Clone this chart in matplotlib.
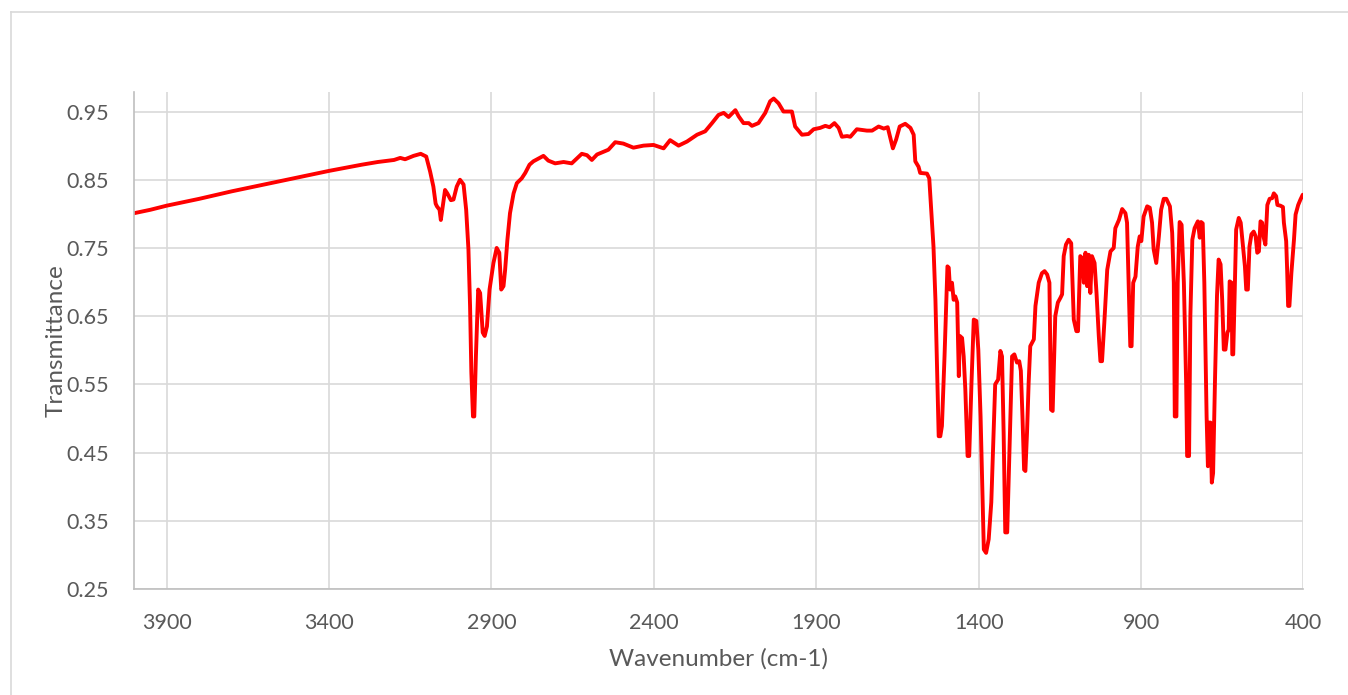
import matplotlib
matplotlib.use("Agg")
import matplotlib.pyplot as plt
from matplotlib.lines import Line2D

wavenumber = [
    4000, 3950, 3900, 3800, 3700, 3600, 3500, 3400, 3300, 3250, 3200, 3181, 3166, 3140, 3118, 3101,
    3089, 3079, 3072, 3068, 3060, 3056, 3050, 3043, 3036, 3025, 3017, 3007, 2997, 2986, 2978, 2971,
    2966, 2962, 2957, 2953, 2948, 2941, 2935, 2927, 2921, 2914, 2906, 2894, 2884, 2876, 2870, 2863,
    2858, 2851, 2843, 2832, 2822, 2807, 2796, 2783, 2771, 2740, 2725, 2704, 2678, 2653, 2622, 2606,
    2591, 2575, 2555, 2540, 2519, 2494, 2463, 2432, 2401, 2370, 2350, 2324, 2298, 2267, 2242, 2221,
    2201, 2185, 2170, 2149, 2139, 2124, 2108, 2098, 2078, 2057, 2042, 2031, 2016, 2001, 1975, 1965,
    1944, 1924, 1908, 1888, 1872, 1859, 1844, 1831, 1821, 1805, 1795, 1775, 1744, 1728, 1708, 1692,
    1680, 1664, 1654, 1643, 1626, 1610, 1600, 1595, 1585, 1580, 1559, 1552, 1546, 1539, 1533, 1528,
    1523, 1518, 1513, 1505, 1496, 1492, 1488, 1482, 1477, 1472, 1466, 1461, 1458, 1451, 1446, 1441,
    1434, 1429, 1422, 1415, 1407, 1401, 1394, 1389, 1384, 1377, 1369, 1361, 1354, 1349, 1340, 1333,
    1328, 1323, 1318, 1312, 1305, 1297, 1290, 1282, 1275, 1270, 1265, 1260, 1256, 1251, 1246, 1241,
    1230, 1225, 1215, 1205, 1197, 1189, 1182, 1177, 1172, 1164, 1156, 1148, 1143, 1138, 1131, 1123,
    1115, 1107, 1099, 1094, 1087, 1081, 1076, 1071, 1066, 1061, 1056, 1051, 1043, 1037, 1030, 1025,
    1020, 1013, 1004, 994, 984, 979, 968, 958, 948, 943, 938, 933, 929, 924, 917, 910,
    904, 899, 892, 881, 873, 866, 861, 853, 845, 838, 830, 822, 811, 804, 799, 796,
    791, 787, 781, 775, 768, 761, 758, 752, 748, 742, 735, 725, 719, 715, 710, 705,
    698, 694, 690, 686, 682, 678, 672, 666, 661, 655, 650, 645, 640, 634, 630, 627,
    621, 619, 616, 611, 607, 599, 593, 587, 580, 576, 571, 566, 560, 553, 547, 542,
    537, 532, 527, 522, 517, 511, 504, 496, 491, 484, 480, 471, 463, 460, 453, 450,
    447, 443, 437, 429, 424, 416, 409, 402, 400,
]

transmittance = [
    0.801, 0.806, 0.812, 0.822, 0.833, 0.843, 0.853, 0.863, 0.872, 0.876, 0.879, 0.882, 0.880, 0.885, 0.888, 0.884,
    0.862, 0.840, 0.815, 0.811, 0.806, 0.791, 0.811, 0.835, 0.830, 0.820, 0.821, 0.840, 0.850, 0.843, 0.806, 0.748,
    0.665, 0.567, 0.503, 0.503, 0.591, 0.689, 0.684, 0.626, 0.621, 0.635, 0.689, 0.728, 0.750, 0.743, 0.689, 0.694,
    0.718, 0.762, 0.801, 0.830, 0.845, 0.852, 0.860, 0.872, 0.877, 0.885, 0.878, 0.874, 0.876, 0.874, 0.888, 0.886,
    0.879, 0.887, 0.891, 0.894, 0.905, 0.903, 0.897, 0.900, 0.901, 0.896, 0.908, 0.900, 0.906, 0.916, 0.921, 0.933,
    0.945, 0.948, 0.942, 0.952, 0.943, 0.933, 0.933, 0.929, 0.933, 0.948, 0.965, 0.969, 0.962, 0.950, 0.950, 0.928,
    0.916, 0.917, 0.924, 0.926, 0.929, 0.927, 0.933, 0.926, 0.913, 0.914, 0.913, 0.924, 0.922, 0.922, 0.928, 0.925,
    0.927, 0.896, 0.909, 0.928, 0.932, 0.926, 0.916, 0.877, 0.869, 0.860, 0.859, 0.852, 0.806, 0.752, 0.674, 0.577,
    0.474, 0.474, 0.489, 0.591, 0.723, 0.721, 0.689, 0.699, 0.674, 0.679, 0.670, 0.562, 0.621, 0.618, 0.591, 0.543,
    0.445, 0.445, 0.552, 0.645, 0.643, 0.601, 0.503, 0.406, 0.308, 0.303, 0.323, 0.377, 0.479, 0.550, 0.557, 0.599,
    0.591, 0.479, 0.333, 0.333, 0.455, 0.591, 0.594, 0.582, 0.584, 0.570, 0.503, 0.425, 0.423, 0.479, 0.552, 0.606,
    0.616, 0.665, 0.699, 0.713, 0.716, 0.711, 0.699, 0.513, 0.511, 0.650, 0.670, 0.677, 0.682, 0.738, 0.755, 0.762,
    0.757, 0.645, 0.628, 0.628, 0.738, 0.735, 0.699, 0.743, 0.694, 0.740, 0.684, 0.738, 0.728, 0.684, 0.621, 0.584,
    0.584, 0.640, 0.718, 0.745, 0.750, 0.779, 0.791, 0.807, 0.801, 0.787, 0.699, 0.606, 0.606, 0.699, 0.708, 0.752,
    0.767, 0.760, 0.796, 0.811, 0.809, 0.787, 0.748, 0.728, 0.767, 0.806, 0.822, 0.822, 0.811, 0.772, 0.699, 0.503,
    0.503, 0.699, 0.788, 0.784, 0.699, 0.552, 0.445, 0.445, 0.650, 0.762, 0.779, 0.789, 0.765, 0.788, 0.786, 0.699,
    0.503, 0.430, 0.494, 0.494, 0.406, 0.420, 0.560, 0.680, 0.733, 0.726, 0.674, 0.601, 0.601, 0.626, 0.630, 0.701,
    0.699, 0.594, 0.594, 0.699, 0.777, 0.794, 0.787, 0.757, 0.723, 0.689, 0.689, 0.752, 0.770, 0.774, 0.767, 0.743,
    0.745, 0.789, 0.787, 0.765, 0.755, 0.813, 0.822, 0.823, 0.830, 0.826, 0.813, 0.812, 0.810, 0.787, 0.760, 0.718,
    0.665, 0.665, 0.713, 0.762, 0.799, 0.813, 0.821, 0.828, 0.826,
]

x_ticks = [3900, 3400, 2900, 2400, 1900, 1400, 900, 400]
y_ticks = [0.25, 0.35, 0.45, 0.55, 0.65, 0.75, 0.85, 0.95]

plt.rcParams['font.family'] = ['Lato', 'DejaVu Sans']
text_color = '#595959'
grid_color = '#d9d9d9'

fig = plt.figure(figsize=(13.48, 6.95), dpi=100)
ax = fig.add_axes([0.0996, 0.1525, 0.8673, 0.7155])

ax.plot(wavenumber, transmittance, color='#ff0000', linewidth=2.8, solid_joinstyle='round')

ax.set_xlim(4000, 400)
ax.set_ylim(0.25, 0.979)
ax.set_xticks(x_ticks)
ax.set_yticks(y_ticks)
ax.set_yticklabels([f"{v:.2f}" for v in y_ticks])
ax.tick_params(length=0, labelsize=15.5, labelcolor=text_color)
ax.tick_params(axis='x', pad=17)
ax.tick_params(axis='y', pad=18)
ax.grid(True, color=grid_color, linewidth=1.2)
ax.set_axisbelow(True)

for side in ['top', 'right']:
    ax.spines[side].set_visible(False)
ax.spines['left'].set_color('#bfbfbf')
ax.spines['bottom'].set_color('#bfbfbf')
ax.spines['left'].set_linewidth(1.2)
ax.spines['bottom'].set_linewidth(1.2)

ax.set_xlabel('Wavenumber (cm-1)', fontsize=17.5, color=text_color, labelpad=11)
ax.set_ylabel('Transmittance', fontsize=17.5, color=text_color, labelpad=0)

# chart border like the spreadsheet frame
fig.add_artist(Line2D([11 / 1348, 11 / 1348], [0, 1 - 12 / 695], color=grid_color, linewidth=1.2))
fig.add_artist(Line2D([11 / 1348, 1], [1 - 12 / 695, 1 - 12 / 695], color=grid_color, linewidth=1.2))

fig.savefig('out.png', dpi=100)
